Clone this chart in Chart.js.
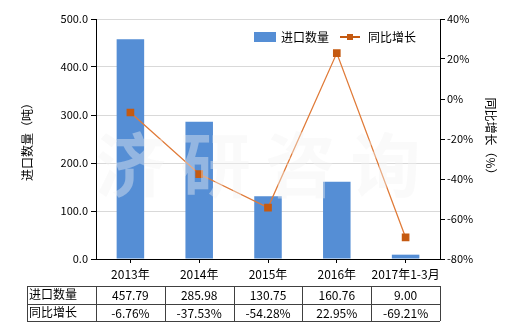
<!DOCTYPE html>
<html>
<head>
<meta charset="utf-8">
<script src="https://cdn.jsdelivr.net/npm/chart.js@4"></script>
<style>
  html, body { margin: 0; padding: 0; background: #fff; }
  #wrap { width: 520px; height: 330px; position: relative; }
</style>
</head>
<body>
<div id="wrap"><canvas id="c" width="520" height="330"></canvas></div>
<script>
'use strict';
const categories = ['2013年', '2014年', '2015年', '2016年', '2017年1-3月'];
const importQty = [457.79, 285.98, 130.75, 160.76, 9.00];
const yoyGrowth = [-6.76, -37.53, -54.28, 22.95, -69.21];
const seriesNames = ['进口数量', '同比增长'];
const leftTitle = '进口数量（吨）';
const rightTitle = '同比增长（%）';
const watermark = '济研咨询';

const FONT = '"Noto Sans CJK SC", "Noto Sans", sans-serif';
const BAR = '#558ED5', LINE = '#E07B39', MARK = '#C55A11';

// watermark over the datasets
const wmPlugin = {
  id: 'wm',
  afterDatasetsDraw(chart) {
    const {ctx, chartArea: a} = chart;
    ctx.save();
    ctx.font = 'bold 70px ' + FONT;
    ctx.fillStyle = 'rgba(242,242,242,0.4)';
    ctx.textAlign = 'center'; ctx.textBaseline = 'middle';
    const cx = (a.left + a.right) / 2 - 10, cy = a.top + 146, step = 85;
    [...watermark].forEach((ch, i) => ctx.fillText(ch, cx + (i - 1.5) * step, cy));
    ctx.restore();
  }
};

// legend + data table under the axis
const extras = {
  id: 'extras',
  afterDraw(chart) {
    const {ctx, chartArea: a, scales} = chart;
    const x = scales.x;
    ctx.save();
    ctx.font = '12px ' + FONT;
    ctx.textBaseline = 'middle';
    ctx.fillStyle = '#000';
    // legend
    const ly = 37;
    ctx.fillStyle = BAR; ctx.fillRect(254, ly - 5, 22, 10);
    ctx.fillStyle = '#000'; ctx.textAlign = 'left';
    ctx.fillText(seriesNames[0], 281, ly);
    ctx.strokeStyle = MARK; ctx.lineWidth = 2;
    ctx.beginPath(); ctx.moveTo(340, ly); ctx.lineTo(360, ly); ctx.stroke();
    ctx.fillStyle = MARK; ctx.fillRect(347, ly - 3, 6, 6);
    ctx.fillStyle = '#000'; ctx.fillText(seriesNames[1], 368, ly);

    // table
    const half = (x.getPixelForValue(1) - x.getPixelForValue(0)) / 2;
    const left = 27, top = 286, rh = 17.5;
    const cols = [left, a.left];
    categories.forEach((c, i) => cols.push(x.getPixelForValue(i) + half));
    ctx.strokeStyle = '#404040'; ctx.lineWidth = 1;
    ctx.beginPath();
    for (let r = 0; r <= 2; r++) {
      const y = Math.round(top + r * rh) + 0.5;
      ctx.moveTo(left, y); ctx.lineTo(cols[cols.length - 1], y);
    }
    cols.forEach(cx => {
      const xx = Math.round(cx) + 0.5;
      ctx.moveTo(xx, top); ctx.lineTo(xx, top + 2 * rh);
    });
    ctx.stroke();
    const rows = [importQty.map(v => v.toFixed(2)), yoyGrowth.map(v => v.toFixed(2) + '%')];
    rows.forEach((vals, r) => {
      const y = top + r * rh + rh / 2;
      ctx.textAlign = 'left'; ctx.fillStyle = '#000';
      ctx.fillText(seriesNames[r], left + 2, y);
      ctx.textAlign = 'center';
      vals.forEach((v, i) => ctx.fillText(v, x.getPixelForValue(i), y + 1));
    });
    ctx.restore();
  }
};

new Chart(document.getElementById('c'), {
  data: {
    labels: categories,
    datasets: [
      { type: 'line', label: seriesNames[1], data: yoyGrowth, yAxisID: 'y1',
        borderColor: LINE, borderWidth: 1.3, pointStyle: 'rect', pointRadius: 4.5,
        pointBackgroundColor: MARK, pointBorderColor: MARK, order: 0 },
      { type: 'bar', label: seriesNames[0], data: importQty, yAxisID: 'y',
        backgroundColor: BAR, barPercentage: 0.4, categoryPercentage: 1, order: 1 }
    ]
  },
  plugins: [wmPlugin, extras],
  options: {
    responsive: false, animation: false,
    layout: { padding: { top: 19, bottom: 45, left: 0, right: 0 } },
    plugins: { legend: { display: false }, tooltip: { enabled: false } },
    scales: {
      x: {
        grid: { drawOnChartArea: false, offset: false, tickLength: 4, tickColor: '#000' },
        border: { color: '#000' },
        ticks: { color: '#000', font: { family: FONT, size: 12 }, maxRotation: 0, autoSkip: false, padding: 4 },
        afterFit(s) { s.height = 26; }
      },
      y: {
        position: 'left', min: 0, max: 500,
        grid: { color: '#d9d9d9', tickColor: '#000', tickLength: 5 },
        border: { color: '#000' },
        ticks: { stepSize: 100, color: '#000', font: { family: FONT, size: 11 }, padding: 3,
                 callback: v => v.toFixed(1) },
        title: { display: true, text: leftTitle, color: '#000', font: { family: FONT, size: 12 }, padding: { top: 20, bottom: 10 } },
        afterFit(s) { s.width = 96; }
      },
      y1: {
        position: 'right', min: -80, max: 40,
        grid: { drawOnChartArea: false, tickColor: '#000', tickLength: 5 },
        border: { color: '#000' },
        ticks: { stepSize: 20, color: '#000', font: { family: FONT, size: 11 }, padding: 2,
                 callback: v => v + '%' },
        title: { display: true, text: rightTitle, color: '#000', font: { family: FONT, size: 12 }, padding: { top: 22, bottom: 12 } },
        afterFit(s) { s.width = 80; }
      }
    }
  }
});
</script>
</body>
</html>
